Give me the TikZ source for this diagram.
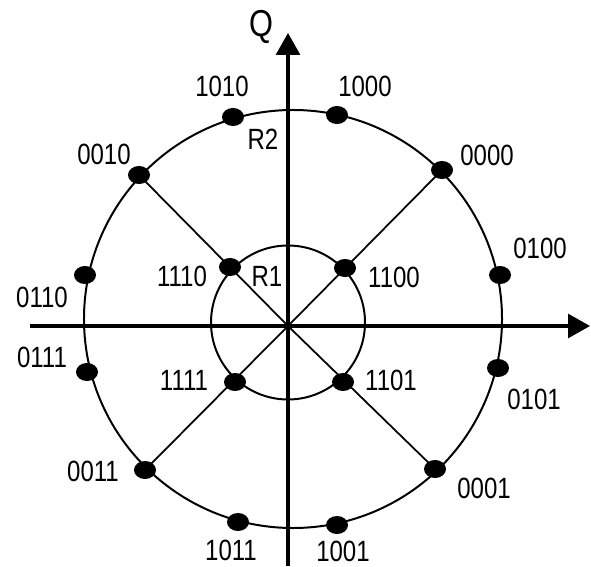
\documentclass[tikz,border=0pt]{standalone}
\usepackage{fontspec}
\setmainfont{Liberation Sans}[FakeStretch=0.82]
\usetikzlibrary{arrows.meta, shapes.geometric}

\begin{document}
\begin{tikzpicture}[x=0.03cm, y=-0.03cm,
        axis/.style={line width=2.6pt, -{Triangle[length=6.6mm, width=7.2mm]}},
        ring/.style={line width=1.7pt},
        spoke/.style={line width=1.5pt},
        point/.style={ellipse, fill=black, inner sep=0pt, minimum width=6.6mm, minimum height=5.4mm},
        code/.style={font=\fontsize{25}{28}\selectfont, inner sep=0pt}
    ]
    \useasboundingbox (0,0) rectangle (591,567);

    % Axes
    \coordinate (O) at (288,326);
    \coordinate (xl) at (30,326);
    \coordinate (xr) at (590,326);
    \coordinate (yb) at (288,566);
    \coordinate (yt) at (288,33);
    \draw[axis] (xl) -- (xr);
    \draw[axis] (yb) -- (yt);
    \node[font=\fontsize{32}{34}\selectfont, inner sep=0pt] (q) at (261,27) {Q};

    % Rings
    \draw[ring] (293,319) circle[radius=6.27cm];
    \draw[ring] (288,322.5) circle[radius=2.31cm];

    % Inner points
    \coordinate (c1110) at (230,267);
    \coordinate (c1100) at (345,268);
    \coordinate (c1111) at (235,382);
    \coordinate (c1101) at (343,382);

    % Outer points
    \coordinate (c1000) at (337,115);
    \coordinate (c1010) at (233,117);
    \coordinate (c0000) at (442,170);
    \coordinate (c0010) at (139,175);
    \coordinate (c0100) at (500,275);
    \coordinate (c0110) at (85,275);
    \coordinate (c0101) at (498,368);
    \coordinate (c0111) at (87,372);
    \coordinate (c0001) at (435,469);
    \coordinate (c0011) at (145,470);
    \coordinate (c1001) at (337,525);
    \coordinate (c1011) at (238,522);

    % Spokes
    \draw[spoke] (O) -- (c0000);
    \draw[spoke] (O) -- (c0010);
    \draw[spoke] (O) -- (c0011);
    \draw[spoke] (O) -- (c0001);

    % Symbols
    \foreach \c in {1110,1100,1111,1101,1000,1010,0000,0010,0100,0110,0101,0111,0001,0011,1001,1011}
        \node[point] (p\c) at (c\c) {};

    % Labels
    \node[code] (l1000) at (365,86) {1000};
    \node[code] (l1010) at (222,86) {1010};
    \node[code] (l0010) at (104,154) {0010};
    \node[code] (l0000) at (487,155) {0000};
    \node[code] (l0100) at (540,248) {0100};
    \node[code] (l0110) at (42,297) {0110};
    \node[code] (l0111) at (42,357) {0111};
    \node[code] (l0101) at (534,399) {0101};
    \node[code] (l0011) at (93,471) {0011};
    \node[code] (l0001) at (484,488) {0001};
    \node[code] (l1011) at (231,550) {1011};
    \node[code] (l1001) at (343,551) {1001};
    \node[code] (l1110) at (182,276) {1110};
    \node[code] (l1100) at (394,277) {1100};
    \node[code] (l1111) at (184,380) {1111};
    \node[code] (l1101) at (391,380) {1101};
    \node[code] (r1) at (267,276) {R1};
    \node[code] (r2) at (263,139) {R2};
\end{tikzpicture}
\end{document}
